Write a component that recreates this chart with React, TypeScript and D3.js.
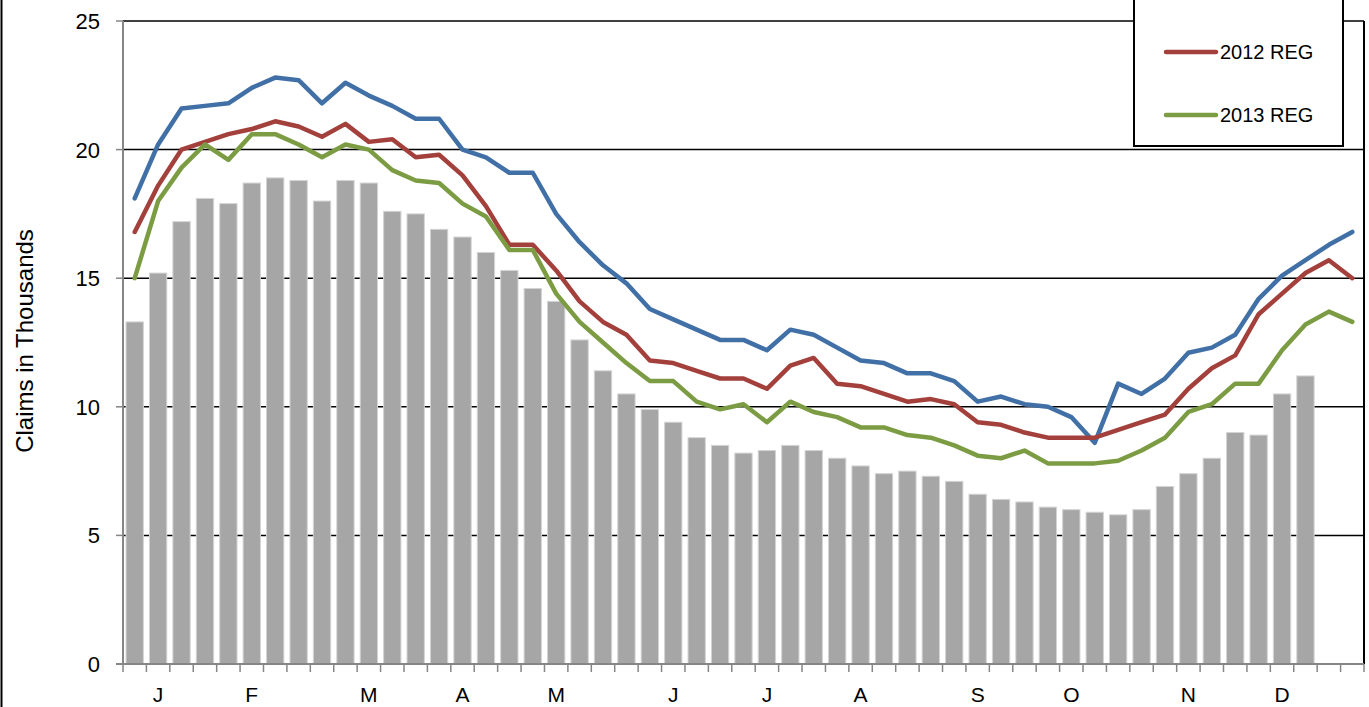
import React from 'react'
import * as d3 from 'd3'

// weekly claims, in thousands
const weeks = d3.range(1, 54)
const claims2014 = [13.3, 15.2, 17.2, 18.1, 17.9, 18.7, 18.9, 18.8, 18.0, 18.8, 18.7, 17.6, 17.5, 16.9, 16.6, 16.0, 15.3, 14.6, 14.1, 12.6, 11.4, 10.5, 9.9, 9.4, 8.8, 8.5, 8.2, 8.3, 8.5, 8.3, 8.0, 7.7, 7.4, 7.5, 7.3, 7.1, 6.6, 6.4, 6.3, 6.1, 6.0, 5.9, 5.8, 6.0, 6.9, 7.4, 8.0, 9.0, 8.9, 10.5, 11.2]
const reg2011 = [18.1, 20.2, 21.6, 21.7, 21.8, 22.4, 22.8, 22.7, 21.8, 22.6, 22.1, 21.7, 21.2, 21.2, 20.0, 19.7, 19.1, 19.1, 17.5, 16.4, 15.5, 14.8, 13.8, 13.4, 13.0, 12.6, 12.6, 12.2, 13.0, 12.8, 12.3, 11.8, 11.7, 11.3, 11.3, 11.0, 10.2, 10.4, 10.1, 10.0, 9.6, 8.6, 10.9, 10.5, 11.1, 12.1, 12.3, 12.8, 14.2, 15.1, 15.7, 16.3, 16.8]
const reg2012 = [16.8, 18.6, 20.0, 20.3, 20.6, 20.8, 21.1, 20.9, 20.5, 21.0, 20.3, 20.4, 19.7, 19.8, 19.0, 17.8, 16.3, 16.3, 15.3, 14.1, 13.3, 12.8, 11.8, 11.7, 11.4, 11.1, 11.1, 10.7, 11.6, 11.9, 10.9, 10.8, 10.5, 10.2, 10.3, 10.1, 9.4, 9.3, 9.0, 8.8, 8.8, 8.8, 9.1, 9.4, 9.7, 10.7, 11.5, 12.0, 13.6, 14.4, 15.2, 15.7, 15.0]
const reg2013 = [15.0, 18.0, 19.3, 20.2, 19.6, 20.6, 20.6, 20.2, 19.7, 20.2, 20.0, 19.2, 18.8, 18.7, 17.9, 17.4, 16.1, 16.1, 14.4, 13.3, 12.5, 11.7, 11.0, 11.0, 10.2, 9.9, 10.1, 9.4, 10.2, 9.8, 9.6, 9.2, 9.2, 8.9, 8.8, 8.5, 8.1, 8.0, 8.3, 7.8, 7.8, 7.8, 7.9, 8.3, 8.8, 9.8, 10.1, 10.9, 10.9, 12.2, 13.2, 13.7, 13.3]
const monthWeeks = [2, 6, 11, 15, 19, 24, 28, 32, 37, 41, 46, 50]
const monthLabels = ['J', 'F', 'M', 'A', 'M', 'J', 'J', 'A', 'S', 'O', 'N', 'D']
const yTicks = [0, 5, 10, 15, 20, 25]

const font = 'Arial, "Liberation Sans", sans-serif'

export default function App() {
    const width = 1369
    const height = 707
    const margin = { top: 21, right: 5, bottom: 43, left: 123 }

    const x = d3.scaleBand<number>()
        .domain(weeks)
        .range([margin.left, width - margin.right])
        .paddingInner(0.26)
        .paddingOuter(0.13)
    const step = x.step()
    const cx = (w: number) => (x(w) as number) + x.bandwidth() / 2

    const y = d3.scaleLinear()
        .domain([0, 25])
        .range([height - margin.bottom, margin.top])

    const line = d3.line<number>()
        .x((_, i) => cx(weeks[i]))
        .y(d => y(d))

    const series = [
        { values: reg2011, color: '#4170a6' },
        { values: reg2012, color: '#a3403c' },
        { values: reg2013, color: '#7c9c43' },
    ]
    const legend = [
        { label: '2012 REG', color: '#a3403c', y: 52 },
        { label: '2013 REG', color: '#7c9c43', y: 115 },
    ]

    const x0 = margin.left
    const x1 = width - margin.right
    const y0 = y(0)

    return (
        <svg width={width} height={height} style={{ position: 'absolute', left: 0, top: 0 }}>
            <rect x={0} y={0} width={width} height={height} fill="#fff" />
            <line x1={1.5} x2={1.5} y1={0} y2={height} stroke="#000" strokeWidth={2} />

            {/* gridlines */}
            {yTicks.filter(t => t > 0).map(t => (
                <line key={t} x1={x0} x2={x1} y1={y(t)} y2={y(t)} stroke="#000" strokeWidth={1.5} />
            ))}
            <line x1={x1} x2={x1} y1={y(25)} y2={y0} stroke="#000" strokeWidth={2} />

            {/* bars */}
            {claims2014.map((v, i) => (
                <rect key={i} x={x(weeks[i])} y={y(v)} width={x.bandwidth()} height={y0 - y(v)}
                    fill="#a6a6a6" stroke="#d4d4d4" strokeWidth={1} />
            ))}

            {/* lines */}
            {series.map((s, i) => (
                <path key={i} d={line(s.values) ?? ''} fill="none" stroke={s.color}
                    strokeWidth={4.5} strokeLinejoin="round" strokeLinecap="round" />
            ))}

            {/* y axis */}
            <line x1={x0} x2={x0} y1={y(25)} y2={y0} stroke="#868686" strokeWidth={2} />
            {yTicks.map(t => (
                <g key={t}>
                    <line x1={x0 - 7} x2={x0} y1={y(t)} y2={y(t)} stroke="#868686" strokeWidth={1.5} />
                    <text x={100} y={y(t)} dy="0.36em" textAnchor="end" fontFamily={font} fontSize={22}>{t}</text>
                </g>
            ))}
            <text transform={`translate(33, 341) rotate(-90)`} textAnchor="middle" fontFamily={font} fontSize={24}>
                Claims in Thousands
            </text>

            {/* x axis */}
            <line x1={x0 - 7} x2={x1} y1={y0} y2={y0} stroke="#868686" strokeWidth={2} />
            {d3.range(weeks.length + 1).map(i => (
                <line key={i} x1={x0 + i * step} x2={x0 + i * step} y1={y0} y2={y0 + 8}
                    stroke="#868686" strokeWidth={1.5} />
            ))}
            {monthWeeks.map((w, i) => (
                <text key={i} x={cx(w)} y={702} textAnchor="middle" fontFamily={font} fontSize={21}>
                    {monthLabels[i]}
                </text>
            ))}

            {/* legend */}
            <rect x={1134} y={-60} width={209} height={206} fill="#fff" stroke="#000" strokeWidth={2} />
            {legend.map(l => (
                <g key={l.label}>
                    <line x1={1166} x2={1216} y1={l.y} y2={l.y} stroke={l.color} strokeWidth={4.5} strokeLinecap="round" />
                    <text x={1220} y={l.y} dy="0.35em" fontFamily={font} fontSize={20}>{l.label}</text>
                </g>
            ))}
        </svg>
    )
}
